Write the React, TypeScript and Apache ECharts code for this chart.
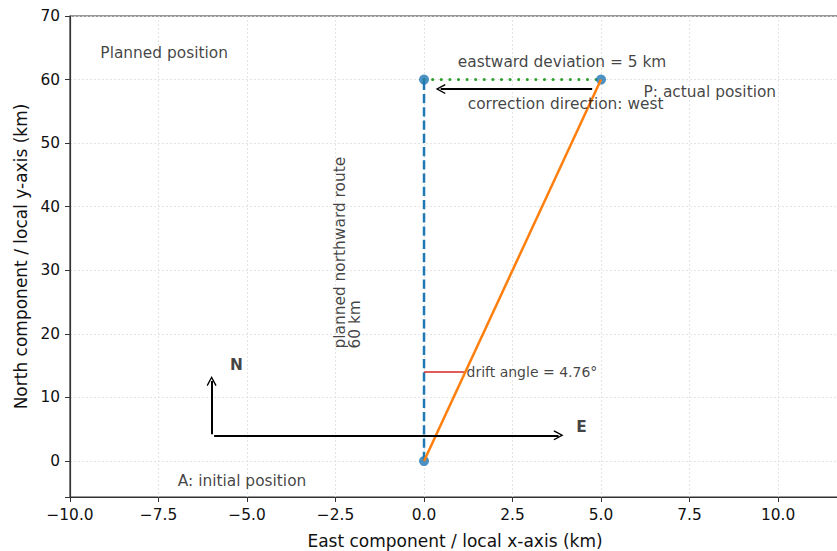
import React, { useEffect, useRef } from "react";
import * as echarts from "echarts";

// ---- data ----
const plannedRoute: number[][] = [[0, 0], [0, 60]];
const actualRoute: number[][] = [[0, 0], [5, 60]];
const deviationLine: number[][] = [[0, 60], [5, 60]];
const driftMarker: number[][] = [[0, 14], [1.167, 14]];
const positionPoints: number[][] = [[0, 0], [0, 60], [5, 60]];
const westArrow: number[][] = [[4.75, 58.5], [0.47, 58.5]];
const northArrow: number[][] = [[-6, 4.2], [-6, 12.6]];
const eastArrow: number[][] = [[-5.93, 4.05], [3.8, 4.05]];
const xTicks = [-10, -7.5, -5, -2.5, 0, 2.5, 5, 7.5, 10];
const yTicks = [0, 10, 20, 30, 40, 50, 60, 70];
const annotationTexts = [
  "Planned position",
  "eastward deviation = 5 km",
  "P: actual position",
  "correction direction: west",
  "A: initial position",
  "planned northward route\n60 km",
  "drift angle = 4.76°",
  "N",
  "E",
];
const annotationCoords: number[][] = [
  [-7.34, 64.2],
  [3.9, 62.8],
  [6.2, 58.1],
  [4.0, 56.1],
  [-5.14, -3.1],
  [-2.15, 17.7],
  [1.2, 14],
  [-5.3, 15.1],
  [4.45, 5.3],
];

const FONT = "DejaVu Sans";
const TEXT = "#111";
const chevron = "path://M5,0 L10,8.5 L8.8,9.2 L5,2.6 L1.2,9.2 L0,8.5 Z";

function fmtX(v: number) {
  if (!xTicks.some((t) => Math.abs(t - v) < 1e-6)) return "";
  return v.toFixed(1).replace("-", "\u2212");
}
function fmtY(v: number) {
  if (!yTicks.some((t) => Math.abs(t - v) < 1e-6)) return "";
  return String(v);
}

export default function App() {
  const ref = useRef<HTMLDivElement>(null);
  useEffect(() => {
    if (!ref.current) return;
    const chart = echarts.init(ref.current, undefined, { renderer: "svg" });
    const labelStyles: any[] = [
      { align: "center", verticalAlign: "middle" },
      { align: "center", verticalAlign: "middle" },
      { align: "left", verticalAlign: "middle" },
      { align: "center", verticalAlign: "middle" },
      { align: "center", verticalAlign: "middle" },
      { align: "left", verticalAlign: "middle", rotate: 90, lineHeight: 15 },
      { align: "left", verticalAlign: "middle", fontSize: 14 },
      { align: "center", verticalAlign: "middle", fontWeight: "bold" },
      { align: "center", verticalAlign: "middle", fontWeight: "bold" },
    ];
    const annData = annotationCoords.map((c, i) => ({
      value: c,
      name: annotationTexts[i],
      label: {
        show: true,
        position: "inside",
        formatter: annotationTexts[i],
        color: TEXT,
        fontFamily: FONT,
        fontSize: 15.4,
        ...labelStyles[i],
      },
    }));
    const arrowSeries = (coords: number[][]) => ({
      type: "lines",
      coordinateSystem: "cartesian2d",
      symbol: ["none", chevron],
      symbolSize: [0, 10],
      lineStyle: { color: "#000", width: 2, opacity: 1 },
      data: [{ coords }],
      z: 5,
      silent: true,
    });
    chart.setOption({
      animation: false,
      grid: {
        left: 70,
        right: -3,
        top: 16,
        bottom: 54,
        outerBoundsMode: "none",
        containLabel: false,
        show: true,
        borderColor: "#333",
        borderWidth: 1.2,
        backgroundColor: "transparent",
      },
      xAxis: {
        type: "value",
        min: -10,
        max: 11.75,
        interval: 2.5,
        name: "East component / local x-axis (km)",
        nameLocation: "middle",
        nameGap: 35,
        nameTextStyle: { fontFamily: FONT, fontSize: 17, color: TEXT },
        axisLine: { show: true, onZero: false, lineStyle: { color: "#333", width: 1.2 } },
        axisTick: { show: true, length: 5, lineStyle: { color: "#333" } },
        axisLabel: {
          formatter: fmtX,
          fontFamily: FONT,
          fontSize: 15.4,
          color: TEXT,
          margin: 10,
          showMaxLabel: false,
        },
        splitLine: { show: true, lineStyle: { color: "#ddd", type: [2, 2], width: 0.8 } },
      },
      yAxis: {
        type: "value",
        min: -5.65,
        max: 70,
        splitNumber: 8,
        name: "North component / local y-axis (km)",
        nameLocation: "middle",
        nameGap: 40,
        nameTextStyle: { fontFamily: FONT, fontSize: 17, color: TEXT },
        axisLine: { show: true, onZero: false, lineStyle: { color: "#333", width: 1.2 } },
        axisTick: { show: true, length: 5, lineStyle: { color: "#333" } },
        axisLabel: {
          formatter: fmtY,
          fontFamily: FONT,
          fontSize: 15.4,
          color: TEXT,
          margin: 10,
        },
        splitLine: { show: true, lineStyle: { color: "#ddd", type: [2, 2], width: 0.8 } },
      },
      series: [
        {
          type: "line",
          data: plannedRoute,
          showSymbol: false,
          lineStyle: { color: "#1f77b4", width: 2.5, type: [9.25, 4] },
          z: 2,
          silent: true,
        },
        {
          type: "line",
          data: deviationLine,
          showSymbol: false,
          lineStyle: { color: "#2ca02c", width: 3, type: [0.1, 8.5], cap: "round" },
          z: 2,
          silent: true,
        },
        {
          type: "scatter",
          data: positionPoints,
          symbolSize: 10,
          itemStyle: { color: "#1f77b4" },
          z: 3,
          silent: true,
        },
        {
          type: "line",
          data: actualRoute,
          showSymbol: false,
          lineStyle: { color: "#ff7f0e", width: 2.5 },
          z: 4,
          silent: true,
        },
        {
          type: "line",
          data: driftMarker,
          showSymbol: false,
          lineStyle: { color: "#d62728", width: 1.6 },
          z: 3,
          silent: true,
        },
        arrowSeries(westArrow),
        arrowSeries(northArrow),
        arrowSeries(eastArrow),
        {
          type: "scatter",
          data: annData,
          symbolSize: 0,
          z: 6,
          silent: true,
        },
      ],
    });
    return () => chart.dispose();
  }, []);
  return (
    <div
      ref={ref}
      style={{ position: "absolute", left: 0, top: 0, width: 837, height: 551, background: "#fff" }}
    />
  );
}
